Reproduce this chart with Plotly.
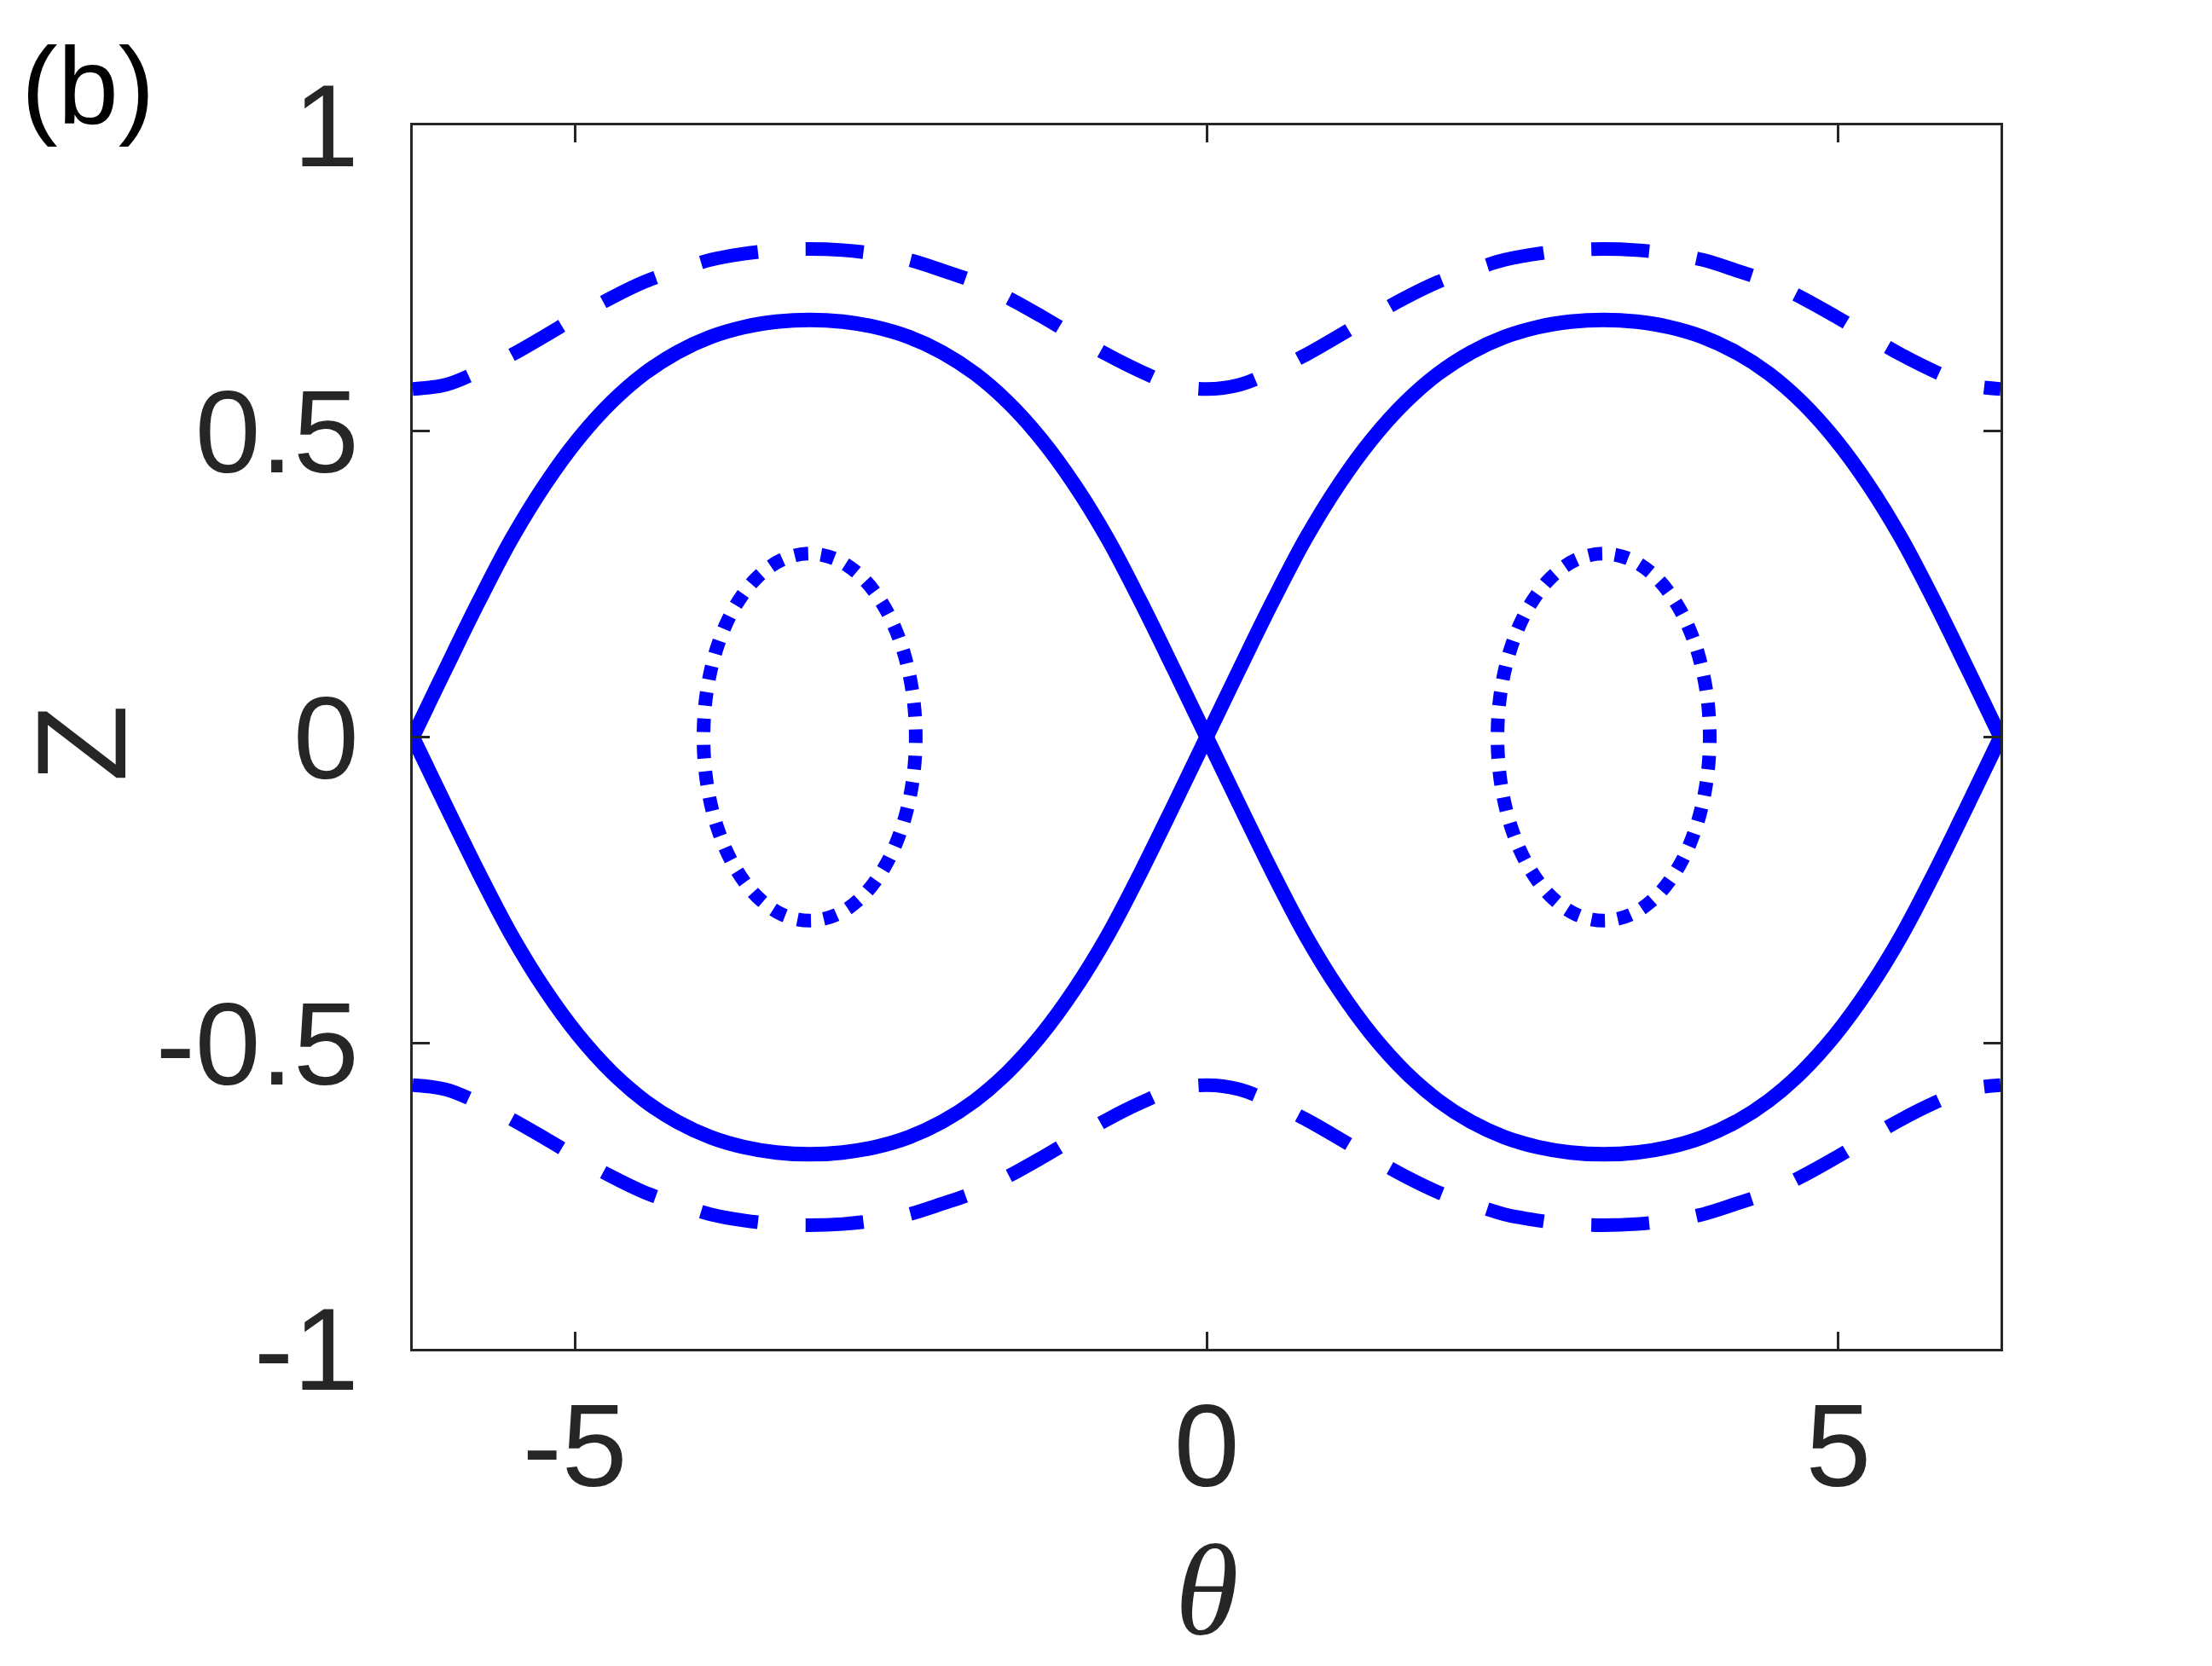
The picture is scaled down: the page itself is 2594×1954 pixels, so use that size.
import plotly.graph_objects as go

# ---------------- data ----------------
theta_grid = [-6.2832, -6.0214, -5.7596, -5.4978, -5.2360, -4.9742, -4.7124, -4.4506,
              -4.1888, -3.9270, -3.6652, -3.4034, -3.1416, -2.8798, -2.6180, -2.3562,
              -2.0944, -1.8326, -1.5708, -1.3090, -1.0472, -0.7854, -0.5236, -0.2618,
              0.0,
              0.2618, 0.5236, 0.7854, 1.0472, 1.3090, 1.5708, 1.8326, 2.0944,
              2.3562, 2.6180, 2.8798, 3.1416, 3.4034, 3.6652, 3.9270, 4.1888,
              4.4506, 4.7124, 4.9742, 5.2360, 5.4978, 5.7596, 6.0214, 6.2832]

# separatrix arches (solid); the two arches meet at the hyperbolic point theta = 0
theta_sep = [-6.2832, -6.0214, -5.7596, -5.4978, -5.2360, -4.9742, -4.7124, -4.4506,
             -4.1888, -3.9270, -3.6652, -3.4034, -3.1416, -2.8798, -2.6180, -2.3562,
             -2.0944, -1.8326, -1.5708, -1.3090, -1.0472, -0.7854, -0.5236, -0.2618,
             0.0, None, 0.0,
             0.2618, 0.5236, 0.7854, 1.0472, 1.3090, 1.5708, 1.8326, 2.0944,
             2.3562, 2.6180, 2.8798, 3.1416, 3.4034, 3.6652, 3.9270, 4.1888,
             4.4506, 4.7124, 4.9742, 5.2360, 5.4978, 5.7596, 6.0214, 6.2832]
z_sep_upper = [0.000, 0.112, 0.222, 0.325, 0.413, 0.487, 0.547, 0.594, 0.629, 0.654, 0.670, 0.679,
               0.682, 0.679, 0.670, 0.654, 0.629, 0.594, 0.547, 0.487, 0.413, 0.325, 0.222, 0.112,
               0.000, None, 0.000,
               0.112, 0.222, 0.325, 0.413, 0.487, 0.547, 0.594, 0.629, 0.654, 0.670, 0.679,
               0.682, 0.679, 0.670, 0.654, 0.629, 0.594, 0.547, 0.487, 0.413, 0.325, 0.222, 0.112,
               0.000]
z_sep_lower = [-0.000, -0.112, -0.222, -0.325, -0.413, -0.487, -0.547, -0.594, -0.629, -0.654, -0.670, -0.679,
               -0.682, -0.679, -0.670, -0.654, -0.629, -0.594, -0.547, -0.487, -0.413, -0.325, -0.222, -0.112,
               -0.000, None, -0.000,
               -0.112, -0.222, -0.325, -0.413, -0.487, -0.547, -0.594, -0.629, -0.654, -0.670, -0.679,
               -0.682, -0.679, -0.670, -0.654, -0.629, -0.594, -0.547, -0.487, -0.413, -0.325, -0.222, -0.112,
               -0.000]

# running orbits (dashed), upper and lower
z_run_upper = [0.569, 0.576, 0.598, 0.625, 0.656, 0.688, 0.718, 0.744, 0.763, 0.780, 0.790, 0.796,
               0.798, 0.796, 0.790, 0.780, 0.763, 0.744, 0.718, 0.688, 0.656, 0.625, 0.598, 0.576,
               0.569,
               0.576, 0.598, 0.625, 0.656, 0.688, 0.718, 0.744, 0.763, 0.780, 0.790, 0.796,
               0.798, 0.796, 0.790, 0.780, 0.763, 0.744, 0.718, 0.688, 0.656, 0.625, 0.598, 0.576,
               0.569]
z_run_lower = [-0.569, -0.576, -0.598, -0.625, -0.656, -0.688, -0.718, -0.744, -0.763, -0.780, -0.790, -0.796,
               -0.798, -0.796, -0.790, -0.780, -0.763, -0.744, -0.718, -0.688, -0.656, -0.625, -0.598, -0.576,
               -0.569,
               -0.576, -0.598, -0.625, -0.656, -0.688, -0.718, -0.744, -0.763, -0.780, -0.790, -0.796,
               -0.798, -0.796, -0.790, -0.780, -0.763, -0.744, -0.718, -0.688, -0.656, -0.625, -0.598, -0.576,
               -0.569]

# small closed orbits (dotted)
theta_orbit_left = [-2.302, -2.331, -2.415, -2.548, -2.722, -2.925, -3.142, -3.359, -3.562, -3.736,
                    -3.869, -3.953, -3.982, -3.953, -3.869, -3.736, -3.562, -3.359, -3.142, -2.925,
                    -2.722, -2.548, -2.415, -2.331, -2.302]
theta_orbit_right = [3.982, 3.953, 3.869, 3.736, 3.562, 3.359, 3.142, 2.925, 2.722, 2.548,
                     2.415, 2.331, 2.302, 2.331, 2.415, 2.548, 2.722, 2.925, 3.142, 3.359,
                     3.562, 3.736, 3.869, 3.953, 3.982]
z_orbit = [0.000, 0.078, 0.150, 0.212, 0.260, 0.290, 0.300, 0.290, 0.260, 0.212,
           0.150, 0.078, 0.000, -0.078, -0.150, -0.212, -0.260, -0.290, -0.300, -0.290,
           -0.260, -0.212, -0.150, -0.078, 0.000]

x_tickvals = [-5, 0, 5]
x_ticktext = ["-5", "0", "5"]
y_tickvals = [-1, -0.5, 0, 0.5, 1]
y_ticktext = ["-1", "-0.5", "0", "0.5", "1"]

# ---------------- styling ----------------
BLUE = "#0000FF"
AX = "#262626"
LW = 16
DASH = "68px,56px"
DOT = "16px,15px"
TICKFONT = dict(family="Liberation Sans, Arial, Helvetica, sans-serif", size=138, color=AX)

fig = go.Figure()
fig.add_trace(go.Scatter(x=theta_sep, y=z_sep_upper, mode="lines", connectgaps=False,
                         line=dict(color=BLUE, width=17, shape="spline", smoothing=1.0)))
fig.add_trace(go.Scatter(x=theta_sep, y=z_sep_lower, mode="lines", connectgaps=False,
                         line=dict(color=BLUE, width=17, shape="spline", smoothing=1.0)))
fig.add_trace(go.Scatter(x=theta_grid, y=z_run_upper, mode="lines",
                         line=dict(color=BLUE, width=LW, dash=DASH, shape="spline", smoothing=1.0)))
fig.add_trace(go.Scatter(x=theta_grid, y=z_run_lower, mode="lines",
                         line=dict(color=BLUE, width=LW, dash=DASH, shape="spline", smoothing=1.0)))
fig.add_trace(go.Scatter(x=theta_orbit_left, y=z_orbit, mode="lines",
                         line=dict(color=BLUE, width=LW, dash=DOT, shape="spline")))
fig.add_trace(go.Scatter(x=theta_orbit_right, y=z_orbit, mode="lines",
                         line=dict(color=BLUE, width=LW, dash=DOT, shape="spline")))

axis_common = dict(showline=True, linecolor=AX, linewidth=2.5, mirror="allticks",
                   ticks="inside", ticklen=20, tickwidth=2.5, tickcolor=AX,
                   showgrid=False, zeroline=False, tickfont=TICKFONT)

# the page body has an 8px margin: the figure is sized so that it ends at the window edge
fig.update_layout(
    width=2586, height=1946,
    margin=dict(l=476, r=248, t=139, b=372),
    paper_bgcolor="white", plot_bgcolor="white",
    showlegend=False,
    xaxis=dict(range=[-6.2832, 6.2832], tickvals=x_tickvals, ticktext=x_ticktext,
               ticklabelstandoff=-7, **axis_common),
    yaxis=dict(range=[-1, 1], tickvals=y_tickvals, ticktext=y_ticktext,
               ticklabelstandoff=33, **axis_common),
    annotations=[
        dict(text="(b)", xref="paper", yref="paper", x=-0.2476, y=1.0324,
             xanchor="left", yanchor="middle", showarrow=False,
             font=dict(family="Liberation Sans, Arial, sans-serif", size=128, color="black")),
        dict(text="Z", xref="paper", yref="paper", x=-0.2084, y=0.4948,
             xanchor="center", yanchor="middle", showarrow=False, textangle=-90,
             font=dict(family="Liberation Sans, Arial, sans-serif", size=148, color=AX)),
        dict(text="<i>θ</i>", xref="paper", yref="paper", x=0.5, y=-0.1979,
             xanchor="center", yanchor="middle", showarrow=False,
             font=dict(family="Liberation Serif, Times New Roman, serif", size=152, color=AX)),
    ],
)

fig.write_html("out.html")
